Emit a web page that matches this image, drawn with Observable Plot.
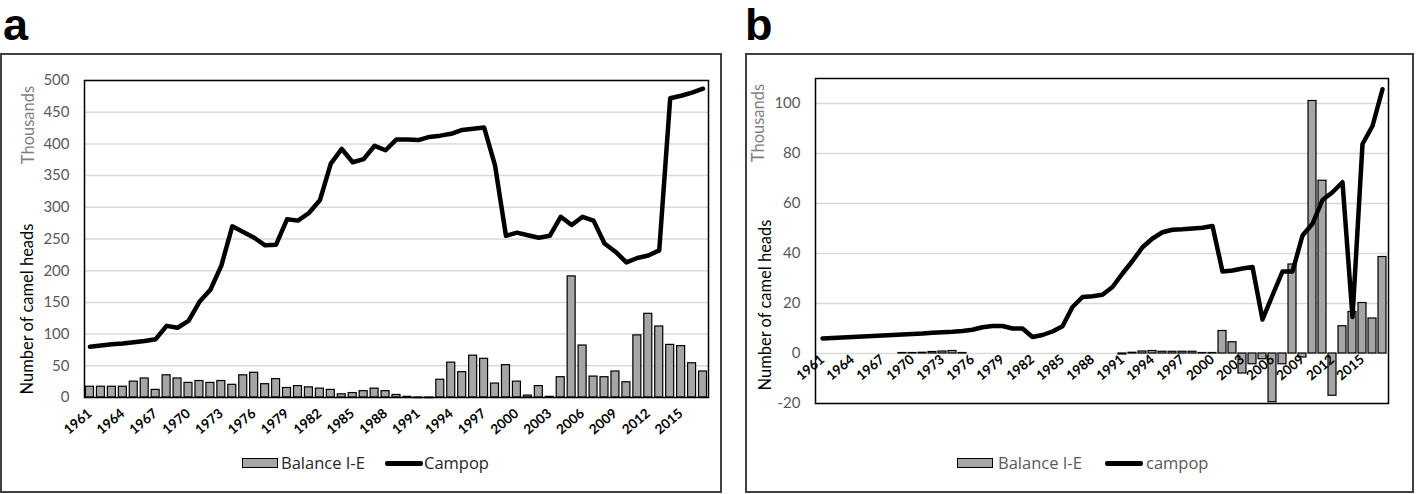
<!DOCTYPE html>
<html><head><meta charset="utf-8">
<script src="https://cdn.jsdelivr.net/npm/d3@7"></script>
<script src="https://cdn.jsdelivr.net/npm/@observablehq/plot@0.6"></script>
<style>
body{margin:0;background:#fff;}
#page{position:relative;width:1418px;height:494px;overflow:hidden;font-family:Lato,"Open Sans",sans-serif;background:#fff;}
.letter{position:absolute;font-family:"Liberation Sans",Arial,sans-serif;font-weight:bold;font-size:45px;line-height:1.12;color:#000;}
.panel{position:absolute;box-sizing:border-box;border:2px solid #404040;}
.rot{position:absolute;transform:translate(-50%,-50%) rotate(-90deg);white-space:nowrap;font-size:16.5px;line-height:1;}
.plotwrap{position:absolute;}
.sw{position:absolute;box-sizing:border-box;}
.lt{position:absolute;font-family:"Open Sans",Lato,sans-serif;font-size:16.5px;line-height:1.2;white-space:nowrap;transform:translateY(-50%);}
</style></head>
<body><div id="page"></div>
<script>
const years = [1961,1962,1963,1964,1965,1966,1967,1968,1969,1970,
  1971,1972,1973,1974,1975,1976,1977,1978,1979,1980,
  1981,1982,1983,1984,1985,1986,1987,1988,1989,1990,
  1991,1992,1993,1994,1995,1996,1997,1998,1999,2000,
  2001,2002,2003,2004,2005,2006,2007,2008,2009,2010,
  2011,2012,2013,2014,2015,2016,2017];
const tickYears = [1961,1964,1967,1970,1973,1976,1979,1982,1985,1988,1991,1994,1997,2000,2003,2006,2009,2012,2015];

// Panel a (thousands)
const balanceA = [17,17,17,17,25,30,12,35,30,23,
  26,23,26,20,35,39,21,29,15,18,
  16,14,12,5,7,10,14,10,4,1,
  -1,-1,28,55,40,66,61,22,51,25,
  3,18,1,32,191,82,33,32,41,24,
  98,132,112,83,81,54,41];
const campopA = [80,82,84,85,87,89,92,113,110,121,
  151,170,208,270,261,252,240,241,281,279,
  291,311,369,392,371,376,397,390,407,407,
  406,411,413,416,422,424,426,366,255,260,
  256,252,255,285,272,285,279,243,230,213,
  220,224,232,472,476,481,487];
const yTicksA = [0,50,100,150,200,250,300,350,400,450,500];

// Panel b (thousands)
const balanceB = [null,null,null,null,null,null,null,null,0.2,0.2,
  0.3,0.6,0.8,1.0,0.2,null,null,null,null,null,
  null,null,null,null,null,null,null,null,null,null,
  -0.4,0.3,0.8,1.0,0.7,0.7,0.7,0.7,0.2,0.2,
  9.0,4.5,-8.0,-4.3,-2.3,-19.5,-4.3,35.6,-1.6,101.0,
  69.1,-16.9,10.9,16.6,20.2,14.0,38.6];
const campopB = [6.0,6.2,6.4,6.6,6.8,7.0,7.2,7.4,7.6,7.8,
  8.0,8.3,8.5,8.7,9.0,9.5,10.5,11.0,11.0,10.0,
  10.0,6.6,7.4,8.8,10.9,18.6,22.6,22.9,23.5,26.6,
  32.0,37.0,42.5,46.0,48.5,49.5,49.7,50.0,50.3,51.0,
  32.8,33.2,34.0,34.6,13.6,23.3,32.8,32.8,47.2,51.9,
  61.4,64.5,68.5,14.6,83.8,91.0,105.7];
const yTicksB = [-20,0,20,40,60,80,100];

const legendA = ["Balance I-E", "Campop"];
const legendB = ["Balance I-E", "campop"];

const page = document.getElementById("page");
function el(cls, style, text) {
  const d = document.createElement("div");
  d.className = cls;
  Object.assign(d.style, style);
  if (text != null) d.textContent = text;
  page.appendChild(d);
  return d;
}

function makePlot(o) {
  const data = years.map((year, i) => ({year, bal: o.bal[i], pop: o.pop[i]}));
  const bars = data.filter(d => d.bal != null);
  const tickStyle = {text: d => String(d), rotate: -40, textAnchor: "end", lineAnchor: "top", fontSize: 13.5, fontWeight: "bold", fill: "#000"};
  return Plot.plot({
    width: o.width, height: o.height,
    marginLeft: o.ml, marginRight: o.mr, marginTop: o.mt, marginBottom: o.mb,
    style: {fontFamily: "Lato, 'Open Sans', sans-serif", background: "transparent", overflow: "visible"},
    x: {type: "band", domain: years, paddingInner: o.pad, paddingOuter: o.pad / 2, axis: null},
    y: {domain: o.domain},
    marks: [
      Plot.gridY(o.ticks, {stroke: "#d9d9d9", strokeOpacity: 1, strokeWidth: 1.5}),
      Plot.axisY(o.ticks, {tickSize: 0, tickPadding: 15, fill: "#595959", fontSize: 15, tickFormat: d => String(d), label: null}),
      Plot.barY(bars, {x: "year", y: "bal", fill: "#a6a6a6", stroke: "#000", strokeWidth: 1.2}),
      Plot.line(data, {x: "year", y: "pop", stroke: "#000", strokeWidth: 4.5, strokeLinejoin: "round", strokeLinecap: "round"}),
      o.zeroAxis
        ? Plot.text(tickYears, {x: d => d, y: () => 0, dx: -3.5, dy: 0, ...tickStyle})
        : Plot.text(tickYears, {x: d => d, frameAnchor: "bottom", dx: -3.5, dy: 10, ...tickStyle}),
      Plot.frame({stroke: "#000", strokeWidth: 1.5})
    ]
  });
}

// Panel frames and letters
el("panel", {left: "0px", top: "53px", width: "722px", height: "440px"});
el("panel", {left: "745px", top: "53px", width: "669px", height: "440px"});
el("letter", {left: "3px", top: "0px"}, "a");
el("letter", {left: "745px", top: "0px"}, "b");

// Plot a
const wa = el("plotwrap", {left: "0px", top: "54px"});
wa.appendChild(makePlot({bal: balanceA, pop: campopA, ticks: yTicksA, domain: [0, 500],
  width: 722, height: 400, ml: 84, mr: 14, mt: 26, mb: 57, pad: 0.27, zeroAxis: false}));

// Plot b
const wb = el("plotwrap", {left: "745px", top: "54px"});
wb.appendChild(makePlot({bal: balanceB, pop: campopB, ticks: yTicksB, domain: [-20, 110],
  width: 668, height: 400, ml: 70, mr: 25, mt: 24, mb: 51, pad: 0.25, zeroAxis: true}));

// Axis titles
el("rot", {left: "28px", top: "125px", color: "#7f7f7f"}, "Thousands");
el("rot", {left: "27px", top: "309px", color: "#000"}, "Number of camel heads");
el("rot", {left: "758px", top: "123px", color: "#7f7f7f"}, "Thousands");
el("rot", {left: "765px", top: "305px", color: "#000"}, "Number of camel heads");

// Legends
function legend(x0, textX1, lineX, textX2, cy, labels, color) {
  el("sw", {left: x0 + "px", top: (cy - 5) + "px", width: "36px", height: "10px", background: "#a6a6a6", border: "1.5px solid #000"});
  el("lt", {left: textX1 + "px", top: cy + "px", color}, labels[0]);
  el("sw", {left: lineX + "px", top: (cy - 2) + "px", width: "38px", height: "4.5px", background: "#000", borderRadius: "2px"});
  el("lt", {left: textX2 + "px", top: cy + "px", color}, labels[1]);
}
legend(242, 281, 385, 424, 463, legendA, "#262626");
legend(957, 998, 1105, 1146, 463, legendB, "#595959");
</script>
</body></html>
